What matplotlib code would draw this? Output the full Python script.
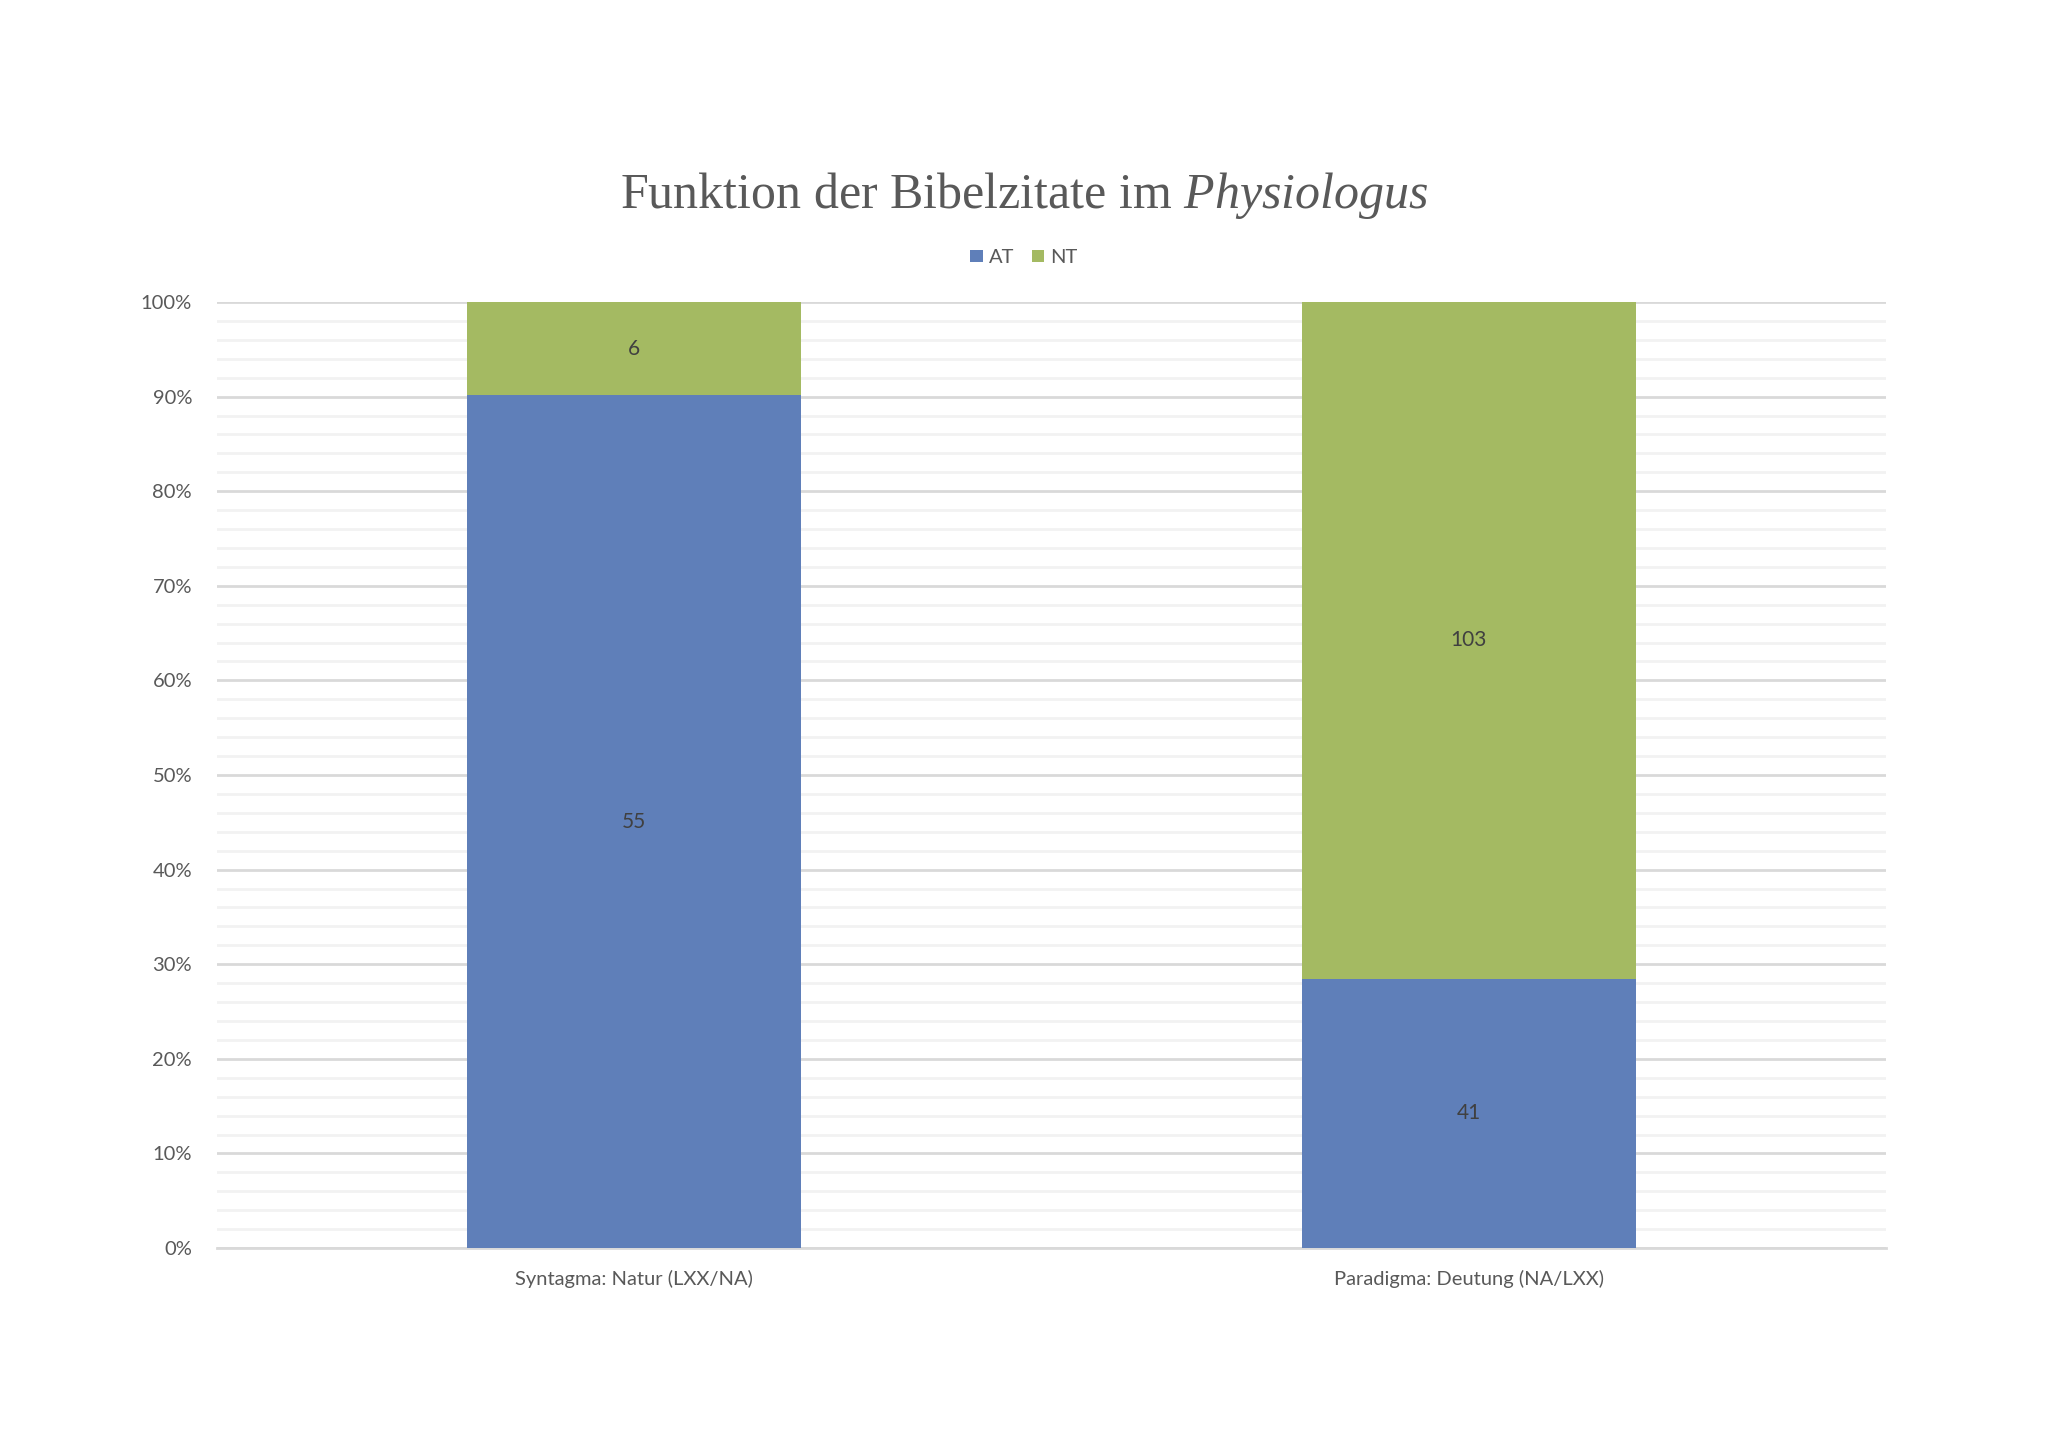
import numpy as np
import matplotlib
matplotlib.use("Agg")
import matplotlib.pyplot as plt
from matplotlib.ticker import MultipleLocator, PercentFormatter

# data
categories = ["Syntagma: Natur (LXX/NA)", "Paradigma: Deutung (NA/LXX)"]
at_counts = [55, 41]
nt_counts = [6, 103]
series_names = ["AT", "NT"]

BLUE = "#5F7FB9"
GREEN = "#A4BA62"
TEXT = "#595959"

plt.rcParams["font.family"] = ["Lato", "DejaVu Sans"]
plt.rcParams["mathtext.fontset"] = "custom"
plt.rcParams["mathtext.rm"] = "Liberation Serif"
plt.rcParams["mathtext.it"] = "Liberation Serif:italic"


def main():
    fig = plt.figure(figsize=(20.48, 14.47), dpi=100)
    ax = fig.add_axes([0.106, 0.1375, 0.815, 0.6538])

    at = np.array(at_counts, dtype=float)
    nt = np.array(nt_counts, dtype=float)
    total = at + nt
    at_pct = at / total * 100
    nt_pct = nt / total * 100

    x = np.arange(len(categories))
    width = 0.4
    b1 = ax.bar(x, at_pct, width, color=BLUE, label=series_names[0], zorder=3)
    b2 = ax.bar(x, nt_pct, width, bottom=at_pct, color=GREEN,
                label=series_names[1], zorder=3)

    # data labels in the middle of each segment
    for rects, counts, base in ((b1, at_counts, np.zeros_like(at_pct)),
                                (b2, nt_counts, at_pct)):
        for r, c, b in zip(rects, counts, base):
            ax.text(r.get_x() + r.get_width() / 2, b + r.get_height() / 2,
                    str(c), ha="center", va="center", fontsize=15,
                    color="#404040", zorder=4)

    ax.set_xlim(-0.5, len(categories) - 0.5)
    ax.set_ylim(0, 100)
    ax.set_xticks(x)
    ax.set_xticklabels(categories, fontsize=14.5, color=TEXT)
    ax.yaxis.set_major_locator(MultipleLocator(10))
    ax.yaxis.set_minor_locator(MultipleLocator(2))
    ax.yaxis.set_major_formatter(PercentFormatter(decimals=0))
    ax.tick_params(axis="y", which="both", length=0, labelsize=14.5,
                   labelcolor=TEXT, pad=18)
    ax.tick_params(axis="x", length=0, pad=16)

    ax.grid(axis="y", which="major", color="#D9D9D9", linewidth=2, zorder=0)
    ax.grid(axis="y", which="minor", color="#F2F2F2", linewidth=2, zorder=0)
    for s in ("top", "right", "left"):
        ax.spines[s].set_visible(False)
    ax.spines["bottom"].set_color("#D9D9D9")
    ax.spines["bottom"].set_linewidth(2)

    fig.text(0.5, 0.865, r"Funktion der Bibelzitate im $\it{Physiologus}$",
             ha="center", va="center", fontsize=36, color=TEXT,
             family="Liberation Serif")

    fig.legend(loc="center", bbox_to_anchor=(0.5, 0.822), ncol=2,
               frameon=False, fontsize=14.5, labelcolor=TEXT,
               handlelength=0.6, handleheight=0.6, handletextpad=0.3,
               columnspacing=0.9)

    fig.savefig("out.png", dpi=100, facecolor="white")


if __name__ == "__main__":
    main()
